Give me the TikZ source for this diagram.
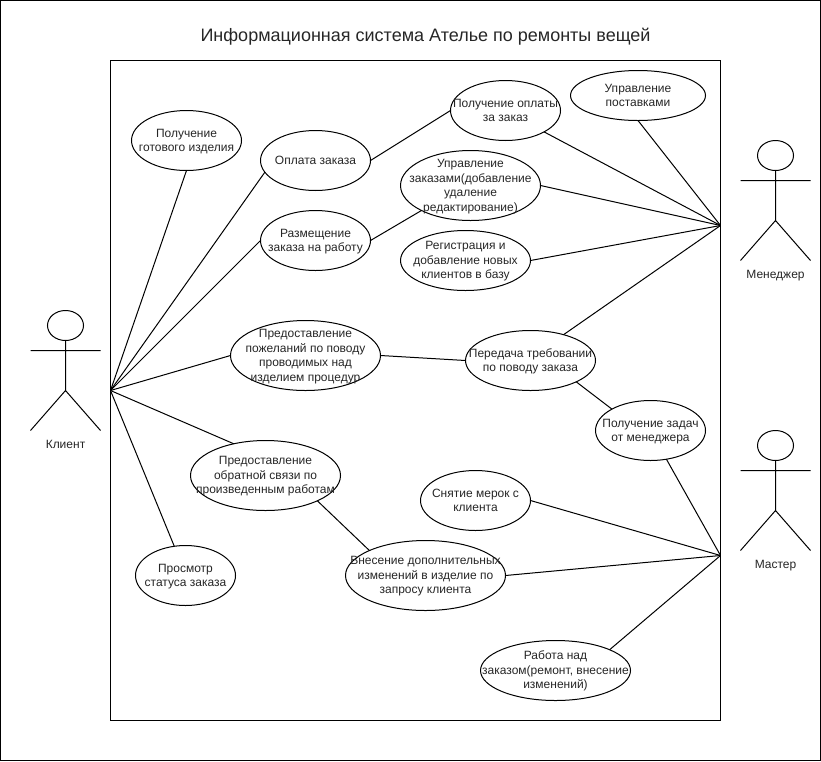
\documentclass[tikz,border=0pt]{standalone}
\usepackage{fontspec}
\setmainfont{Liberation Sans}
\usetikzlibrary{shapes.geometric}
\tikzset{
 uc/.style={ellipse,draw=black,line width=1pt,inner sep=0pt,outer sep=0pt},
 uctext/.style={align=center,font=\fontsize{12}{14.5}\selectfont,text=black!85,inner sep=0pt},
 link/.style={draw=black,line width=1pt},
 lbl/.style={font=\fontsize{12}{15}\selectfont,text=black!85,inner sep=0pt,anchor=base},
}
\newcommand{\actor}[3]{% x, y(top of head), name
 \node[uc,minimum width=36pt,minimum height=30pt] (#3h) at (#1,#2+15) {};
 \coordinate (#3f) at (#1,#2+80);
 \coordinate (#3a) at (#1-35,#2+40);
 \coordinate (#3b) at (#1+35,#2+40);
 \coordinate (#3l) at (#1-35,#2+120);
 \coordinate (#3r) at (#1+35,#2+120);
 \draw[link] (#3h.south) -- (#3f) (#3a) -- (#3b) (#3l) -- (#3f) -- (#3r);
}
\newcommand{\usecase}[6]{%
 \node[uc,minimum width=#4pt,minimum height=#5pt] (#1) at (#2,#3) {};
 \node[uctext] (#1t) at (#2,#3+1) {\strut #6\strut};
}
\begin{document}
\begin{tikzpicture}[x=1pt,y=-1pt]
\useasboundingbox (0,0) rectangle (821,761);
\node[draw=black,line width=1pt,minimum width=820pt,minimum height=760pt,inner sep=0pt,outer sep=0pt] (page) at (410.5,380.5) {};
\begin{scope}[shift={(0.5,0.5)}]
\node[draw=black,line width=1pt,minimum width=610pt,minimum height=660pt,inner sep=0pt,outer sep=0pt] (frame) at (415,390) {};
\node[font=\fontsize{18}{20}\selectfont,text=black!85,inner sep=0pt] (title) at (425,36.5) {\strut Информационная система Ателье по ремонты вещей};
\actor{65}{310}{k}
\actor{775}{140}{m}
\actor{775}{430}{w}
\node[lbl] (kl) at (65,448) {Клиент};
\node[lbl] (ml) at (775,278) {Менеджер};
\node[lbl] (wl) at (775,568) {Мастер};
\coordinate (K) at (110,390);
\coordinate (M) at (720,225);
\coordinate (W) at (720,555);
\usecase{a}{186}{140}{110}{60}{Получение\\готового изделия}
\usecase{b}{315}{160}{110}{60}{Оплата заказа}
\usecase{c}{315}{240}{110}{60}{Размещение\\заказа на работу}
\usecase{d}{305}{355}{150}{70}{Предоставление\\пожеланий по поводу\\проводимых над\\изделием процедур}
\usecase{e}{265}{475}{150}{70}{Предоставление\\обратной связи по\\произведенным работам}
\usecase{f}{185}{575}{100}{60}{Просмотр\\статуса заказа}
\usecase{g}{505}{110}{110}{60}{Получение оплаты\\за заказ}
\usecase{h}{637.5}{95}{135}{50}{Управление\\поставками}
\usecase{i}{470}{185}{140}{70}{Управление\\заказами(добавление\\удаление\\редактирование)}
\usecase{j}{465}{260}{130}{60}{Регистрация и\\добавление новых\\клиентов в базу}
\usecase{l}{530}{360}{130}{60}{Передача требовании\\по поводу заказа}
\usecase{n}{650}{430}{110}{60}{Получение задач\\от менеджера}
\usecase{o}{475}{500}{110}{60}{Снятие мерок с\\клиента}
\usecase{p}{425}{575}{160}{70}{Внесение дополнительных\\изменений в изделие по\\запросу клиента}
\usecase{q}{555}{670}{150}{60}{Работа над\\заказом(ремонт, внесение\\изменений)}
\draw[link] (K) -- (a.south);
\draw[link] (K) -- (b.193);
\draw[link] (K) -- (c.west);
\draw[link] (K) -- (d.west);
\draw[link] (K) -- (e.135);
\draw[link] (K) -- (f.111);
\draw[link] (M) -- (g.331.5);
\draw[link] (M) -- (h.south);
\draw[link] (M) -- (i.east);
\draw[link] (M) -- (j.east);
\draw[link] (M) -- (l.38);
\draw[link] (W) -- (n.299.7);
\draw[link] (W) -- (o.east);
\draw[link] (W) -- (p.east);
\draw[link] (W) -- (q.21);
\draw[link] (b.east) -- (g.west);
\draw[link] (c.east) -- (i.207.5);
\draw[link] (d.east) -- (l.west);
\draw[link] (l.335) -- (n.151);
\draw[link] (e.334.7) -- (p.156.5);
\end{scope}
\end{tikzpicture}
\end{document}
